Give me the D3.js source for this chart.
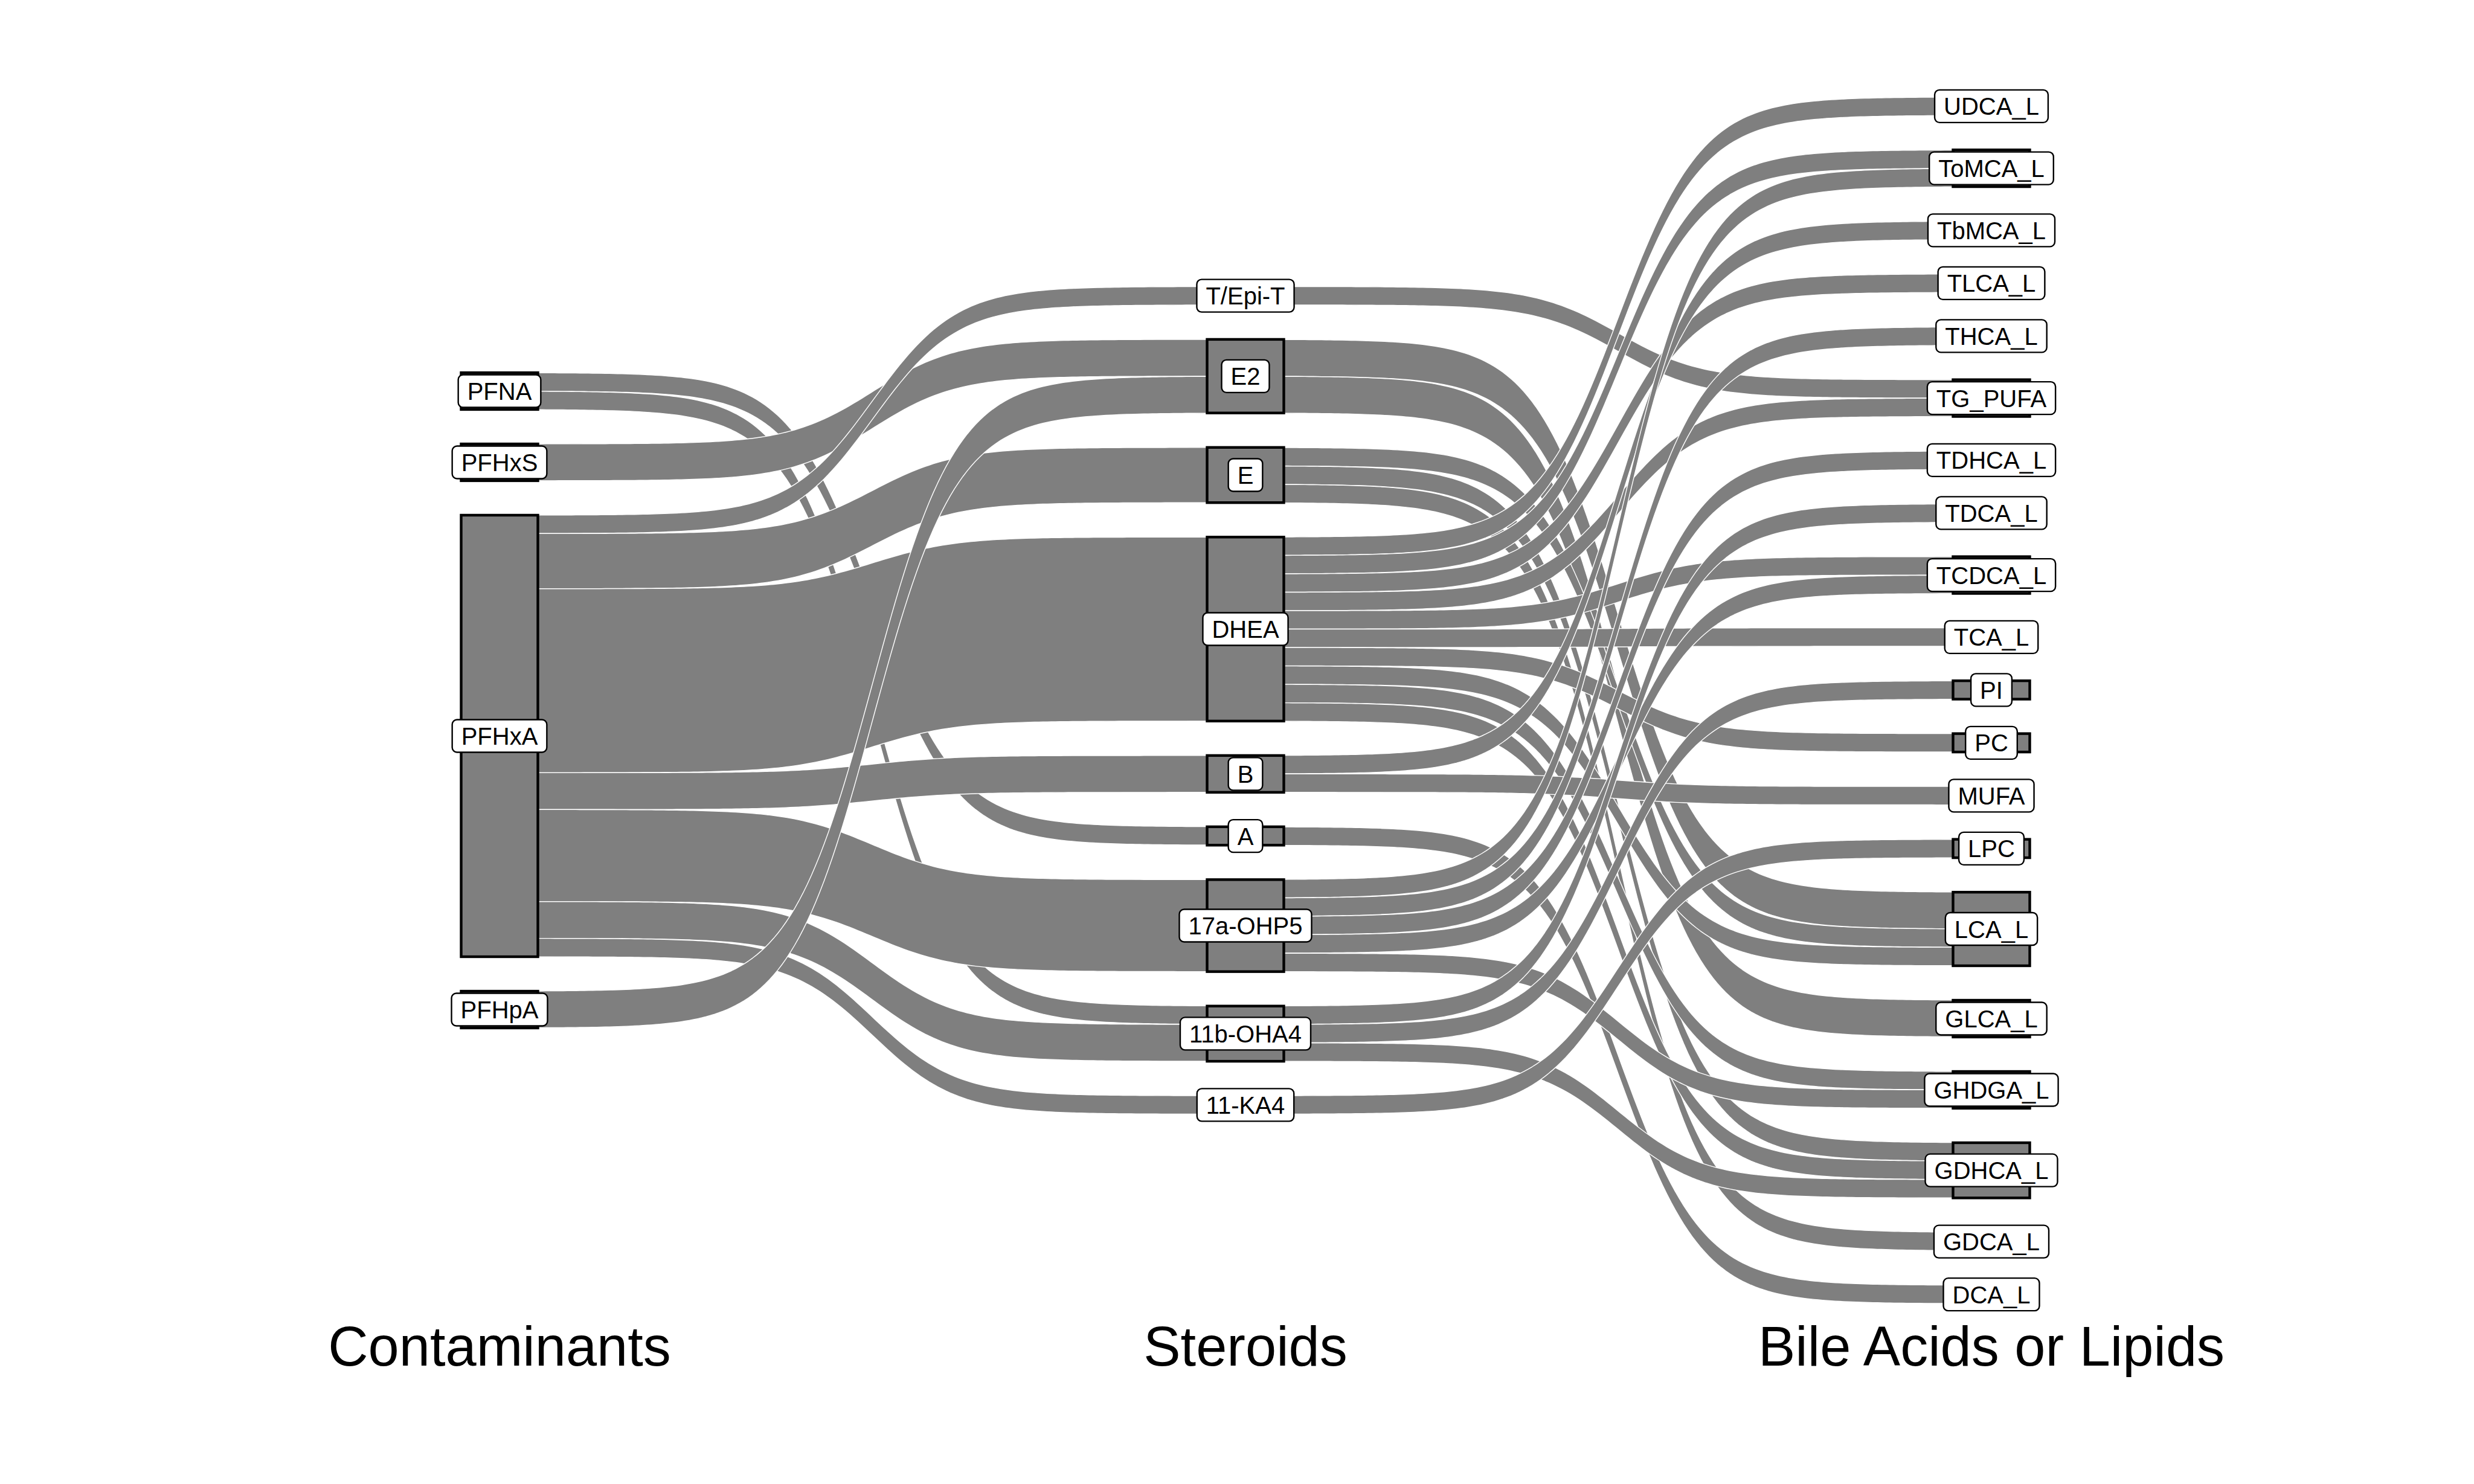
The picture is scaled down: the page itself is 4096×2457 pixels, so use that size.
<!DOCTYPE html>
<html><head><meta charset="utf-8">
<script src="https://cdn.jsdelivr.net/npm/d3@7"></script>
<style>body{margin:0;background:#fff} svg{display:block}</style>
</head><body>
<svg id="chart" width="4096" height="2457"></svg>
<script>
const axes = ["Contaminants", "Steroids", "Bile Acids or Lipids"];
const contaminants = ["PFNA", "PFHxS", "PFHxA", "PFHpA"];
const steroids = ["T/Epi-T", "E2", "E", "DHEA", "B", "A", "17a-OHP5", "11b-OHA4", "11-KA4"];
const bileAcids = ["UDCA_L", "ToMCA_L", "TbMCA_L", "TLCA_L", "THCA_L", "TG_PUFA", "TDHCA_L", "TDCA_L", "TCDCA_L", "TCA_L", "PI", "PC", "MUFA", "LPC", "LCA_L", "GLCA_L", "GHDGA_L", "GDHCA_L", "GDCA_L", "DCA_L"];

// contaminant -> steroid : [source, target, count]
const contaminantSteroid = [
  ["PFNA", "A", 1], ["PFNA", "11b-OHA4", 1],
  ["PFHxS", "E2", 2],
  ["PFHxA", "T/Epi-T", 1], ["PFHxA", "E", 3], ["PFHxA", "DHEA", 10], ["PFHxA", "B", 2],
  ["PFHxA", "17a-OHP5", 5], ["PFHxA", "11b-OHA4", 2], ["PFHxA", "11-KA4", 1],
  ["PFHpA", "E2", 2]
];
// steroid -> bile acid / lipid : [source, target, count]
const steroidBile = [
  ["T/Epi-T", "TG_PUFA", 1],
  ["E2", "LCA_L", 2], ["E2", "GLCA_L", 2],
  ["E", "LCA_L", 1], ["E", "GDHCA_L", 1], ["E", "GDCA_L", 1],
  ["DHEA", "UDCA_L", 1], ["DHEA", "ToMCA_L", 1], ["DHEA", "TLCA_L", 1], ["DHEA", "TG_PUFA", 1],
  ["DHEA", "TCDCA_L", 1], ["DHEA", "TCA_L", 1], ["DHEA", "PC", 1], ["DHEA", "LCA_L", 1],
  ["DHEA", "GHDGA_L", 1], ["DHEA", "GDHCA_L", 1],
  ["B", "TbMCA_L", 1], ["B", "MUFA", 1],
  ["A", "DCA_L", 1],
  ["17a-OHP5", "ToMCA_L", 1], ["17a-OHP5", "THCA_L", 1], ["17a-OHP5", "TDHCA_L", 1],
  ["17a-OHP5", "TCDCA_L", 1], ["17a-OHP5", "GHDGA_L", 1],
  ["11b-OHA4", "TDCA_L", 1], ["11b-OHA4", "PI", 1], ["11b-OHA4", "GDHCA_L", 1],
  ["11-KA4", "LPC", 1]
];

const W = 4096, H = 2457;
const svg = d3.select("#chart");
const levels = [contaminants, steroids, bileAcids];
const linkSets = [contaminantSteroid, steroidBile];

const xAxis = d3.scalePoint().domain(axes).range([827, 3297]);
const nodeW = 127;
const unit = d3.scaleLinear().domain([0, 1]).range([0, 30.46]);
const gap = 57.05, centerY = 1159.5;
const grey = "#7f7f7f";

// node values
const nodes = levels.map((names, li) => names.map((name, i) => {
  let vin = 0, vout = 0;
  if (li > 0) linkSets[li - 1].forEach(l => { if (l[1] === name) vin += l[2]; });
  if (li < levels.length - 1) linkSets[li].forEach(l => { if (l[0] === name) vout += l[2]; });
  return {name, level: li, index: i, value: Math.max(vin, vout)};
}));
nodes.forEach((col, li) => {
  const total = unit(d3.sum(col, d => d.value)) + gap * (col.length - 1);
  let y = centerY - total / 2;
  col.forEach(n => {
    n.y0 = y; n.y1 = y + unit(n.value); y = n.y1 + gap;
    n.x = xAxis(axes[li]);
    n.outY = n.y0; n.inY = n.y0;
  });
});
const find = (li, name) => nodes[li].find(n => n.name === name);

// flows stacked: outgoing ordered by target, incoming ordered by source
const flows = [];
linkSets.forEach((set, li) => {
  const ls = set.map(l => ({s: find(li, l[0]), t: find(li + 1, l[1]), v: l[2]}));
  nodes[li].forEach(n => {
    ls.filter(l => l.s === n).sort((a, b) => a.t.index - b.t.index).forEach(l => {
      l.sy0 = n.outY; l.sy1 = n.outY + unit(l.v); n.outY = l.sy1;
    });
  });
  nodes[li + 1].forEach(n => {
    ls.filter(l => l.t === n).sort((a, b) => a.s.index - b.s.index).forEach(l => {
      l.ty0 = n.inY; l.ty1 = n.inY + unit(l.v); n.inY = l.ty1;
    });
  });
  ls.forEach(l => flows.push(l));
});

const smooth = 8, N = 160;
function sigmoid(x0, x1, y0, y1) {
  const pts = [];
  for (let i = 0; i < N; i++) {
    const s = -smooth + 2 * smooth * i / (N - 1);
    const f = Math.exp(s) / (Math.exp(s) + 1);
    pts.push([x0 + (x1 - x0) * i / (N - 1), y0 + (y1 - y0) * f]);
  }
  return pts;
}
const line = d3.line();
const gFlows = svg.append("g");
flows.forEach(l => {
  const x0 = l.s.x + nodeW / 2, x1 = l.t.x - nodeW / 2;
  const top = sigmoid(x0, x1, l.sy0, l.ty0);
  const bot = sigmoid(x0, x1, l.sy1, l.ty1).reverse();
  gFlows.append("path")
    .attr("d", line(top.concat(bot)) + "Z")
    .attr("fill", grey)
    .attr("stroke", "#ffffff")
    .attr("stroke-width", 1.4)
    .attr("stroke-linejoin", "round");
});

// nodes
const allNodes = nodes.flat();
svg.append("g").selectAll("rect").data(allNodes).join("rect")
  .attr("x", d => d.x - nodeW / 2)
  .attr("y", d => d.y0)
  .attr("width", nodeW)
  .attr("height", d => d.y1 - d.y0)
  .attr("fill", grey)
  .attr("stroke", "#000")
  .attr("stroke-width", 4.4);

// labels
const fontSize = 40, padX = 15, boxH = 54;
const gLab = svg.append("g").attr("font-family", "'Liberation Sans', Arial, Helvetica, sans-serif");
allNodes.forEach(d => {
  const cy = (d.y0 + d.y1) / 2;
  const g = gLab.append("g");
  const rect = g.append("rect");
  const t = g.append("text")
    .attr("x", d.x).attr("y", cy + 14.5)
    .attr("text-anchor", "middle")
    .attr("font-size", fontSize)
    .attr("fill", "#000")
    .text(d.name);
  const w = t.node().getComputedTextLength() + 2 * padX;
  rect.attr("x", d.x - w / 2).attr("y", cy - boxH / 2)
    .attr("width", w).attr("height", boxH)
    .attr("rx", 8).attr("ry", 8)
    .attr("fill", "#fff").attr("stroke", "#000").attr("stroke-width", 2.4);
});

// axis titles
svg.append("g").selectAll("text").data(axes).join("text")
  .attr("x", d => xAxis(d))
  .attr("y", 2261)
  .attr("text-anchor", "middle")
  .attr("font-family", "'Liberation Sans', Arial, Helvetica, sans-serif")
  .attr("font-size", 92)
  .attr("fill", "#000")
  .text(d => d);
</script>
</body></html>
